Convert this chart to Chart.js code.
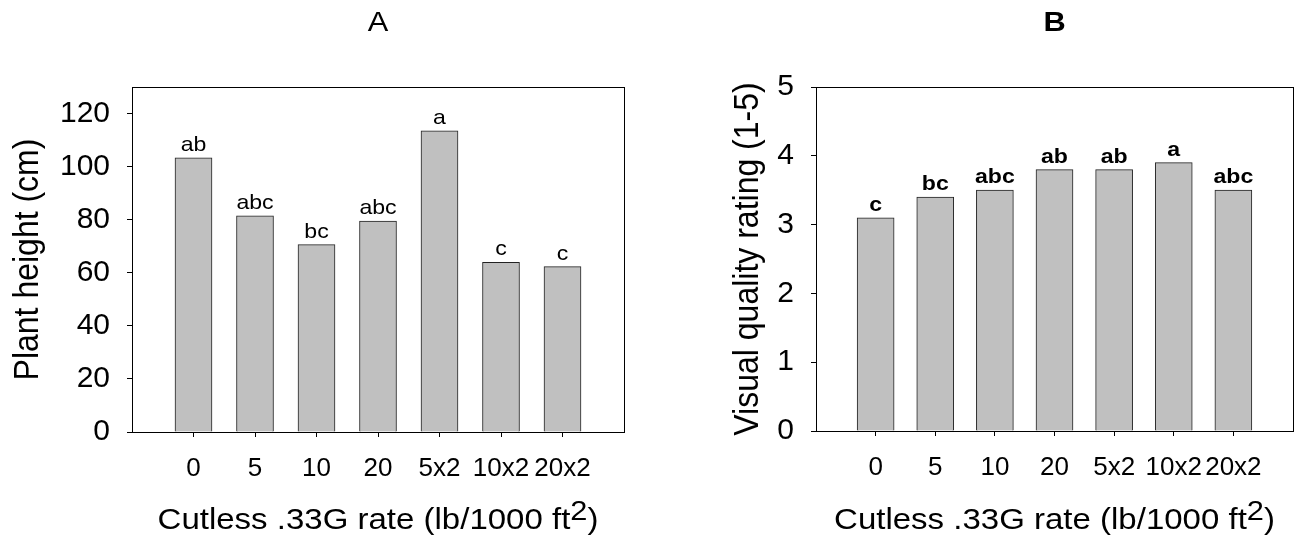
<!DOCTYPE html>
<html>
<head>
<meta charset="utf-8">
<script src="https://cdn.jsdelivr.net/npm/chart.js@4.4.1/dist/chart.umd.min.js"></script>
<style>
  html, body { margin: 0; padding: 0; background: #fff; }
  #wrap { position: relative; width: 1309px; height: 540px; }
  .panel { position: absolute; top: 0; width: 654px; height: 540px; }
  #panelA { left: 0; }
  #panelB { left: 655px; }
</style>
</head>
<body>
<div id="wrap">
  <div class="panel" id="panelA"><canvas id="chartA" width="654" height="540"></canvas></div>
  <div class="panel" id="panelB"><canvas id="chartB" width="654" height="540"></canvas></div>
</div>
<script>
const rates = ['0', '5', '10', '20', '5x2', '10x2', '20x2'];

const heightValues = [103.3, 81.5, 70.6, 79.5, 113.5, 63.9, 62.3];
const heightLetters = ['ab', 'abc', 'bc', 'abc', 'a', 'c', 'c'];
const heightTicks = [0, 20, 40, 60, 80, 100, 120];

const qualityValues = [3.1, 3.4, 3.5, 3.8, 3.8, 3.9, 3.5];
const qualityLetters = ['c', 'bc', 'abc', 'ab', 'ab', 'a', 'abc'];
const qualityTicks = [0, 1, 2, 3, 4, 5];

const FONT = 'Liberation Sans, Arial, sans-serif';
const WIDEN = 1.1; // the source figure's text is a bit wider than plain Arial

// blank slots at both ends so the bars sit at positions 1..7 of 0..8
function padded(arr, blank) {
  return [blank].concat(arr, [blank]);
}

function wideText(ctx, text, x, y) {
  ctx.save();
  ctx.translate(x, y);
  ctx.scale(WIDEN, 1);
  ctx.fillText(text, 0, 0);
  ctx.restore();
}

const decorPlugin = {
  id: 'decor',
  afterDatasetsDraw(chart) {
    const spec = chart.options.plugins.decor;
    const ctx = chart.ctx;
    const a = chart.chartArea;
    ctx.save();
    // frame round the plot
    ctx.strokeStyle = '#000';
    ctx.lineWidth = 1;
    ctx.strokeRect(Math.round(a.left) + 0.5, Math.round(a.top) + 0.5,
      Math.round(a.right - a.left), Math.round(a.bottom - a.top));

    // significance letters above bars
    const meta = chart.getDatasetMeta(0);
    ctx.fillStyle = '#000';
    ctx.textAlign = 'center';
    ctx.textBaseline = 'alphabetic';
    ctx.font = (spec.letterBold ? 'bold ' : '') + '21px ' + FONT;
    spec.letters.forEach((t, i) => {
      const bar = meta.data[i + 1];
      wideText(ctx, t, bar.x, bar.y - 7);
    });
    ctx.restore();
  },
  afterDraw(chart) {
    const spec = chart.options.plugins.decor;
    const ctx = chart.ctx;
    const a = chart.chartArea;
    const cx = (a.left + a.right) / 2;
    const cy = (a.top + a.bottom) / 2;
    ctx.save();
    ctx.fillStyle = '#000';
    ctx.textBaseline = 'alphabetic';

    // panel letter
    ctx.textAlign = 'center';
    ctx.font = (spec.titleBold ? 'bold ' : '') + '28px ' + FONT;
    wideText(ctx, spec.title, cx, 31);

    // y title
    ctx.save();
    ctx.translate(spec.yTitleX, cy);
    ctx.rotate(-Math.PI / 2);
    ctx.scale(1, WIDEN);
    ctx.textBaseline = 'middle';
    ctx.font = '32px ' + FONT;
    ctx.fillText(spec.yTitle, 0, 0);
    ctx.restore();

    // x title with raised 2
    const main = 'Cutless .33G rate (lb/1000 ft';
    ctx.font = '30px ' + FONT;
    const w1 = ctx.measureText(main).width;
    const w3 = ctx.measureText(')').width;
    ctx.font = '28px ' + FONT;
    const w2 = ctx.measureText('2').width;
    ctx.translate(cx, 0);
    ctx.scale(WIDEN, 1);
    let x = -(w1 + w2 + w3) / 2;
    ctx.textAlign = 'left';
    ctx.font = '30px ' + FONT;
    ctx.fillText(main, x, 529);
    x += w1;
    ctx.font = '28px ' + FONT;
    ctx.fillText('2', x, 520);
    x += w2;
    ctx.font = '30px ' + FONT;
    ctx.fillText(')', x, 529);
    ctx.restore();
  }
};

function buildChart(id, spec) {
  const ctx = document.getElementById(id).getContext('2d');
  const lastIndex = rates.length + 1;
  return new Chart(ctx, {
    type: 'bar',
    data: {
      labels: padded(rates, ''),
      datasets: [{
        data: padded(spec.values, null),
        backgroundColor: '#c0c0c0',
        borderColor: '#222',
        borderWidth: 1,
        barThickness: 37
      }]
    },
    options: {
      responsive: false,
      animation: false,
      layout: {
        padding: { top: spec.plot.top, right: 654 - spec.plot.right, left: 0, bottom: 0 }
      },
      scales: {
        x: {
          offset: false,
          grid: {
            offset: false,
            drawOnChartArea: false,
            drawTicks: true,
            tickLength: 5,
            tickColor: c => (c.index === 0 || c.index === lastIndex) ? 'rgba(0,0,0,0)' : '#000'
          },
          border: { display: false },
          ticks: {
            color: '#000',
            padding: 16,
            maxRotation: 0,
            autoSkip: false,
            font: { family: FONT, size: 26 }
          },
          afterFit: s => { s.height = 540 - spec.plot.bottom; }
        },
        y: {
          min: 0,
          max: spec.yMax,
          grid: {
            drawOnChartArea: false,
            drawTicks: true,
            tickLength: 5,
            tickColor: '#000'
          },
          border: { display: false },
          ticks: {
            color: '#000',
            padding: 17,
            font: { family: FONT, size: 30 }
          },
          afterBuildTicks: s => { s.ticks = spec.ticks.map(v => ({ value: v })); },
          afterFit: s => { s.width = spec.plot.left; }
        }
      },
      plugins: {
        legend: { display: false },
        tooltip: { enabled: false },
        decor: spec
      }
    },
    plugins: [decorPlugin]
  });
}

buildChart('chartA', {
  values: heightValues,
  letters: heightLetters,
  ticks: heightTicks,
  yMax: 130,
  title: 'A',
  titleBold: false,
  letterBold: false,
  yTitle: 'Plant height (cm)',
  yTitleX: 28,
  plot: { left: 132, right: 624, top: 87, bottom: 432 }
});

buildChart('chartB', {
  values: qualityValues,
  letters: qualityLetters,
  ticks: qualityTicks,
  yMax: 5,
  title: 'B',
  titleBold: true,
  letterBold: true,
  yTitle: 'Visual quality rating (1-5)',
  yTitleX: 93,
  plot: { left: 161, right: 651, top: 87, bottom: 431 }
});
</script>
</body>
</html>
